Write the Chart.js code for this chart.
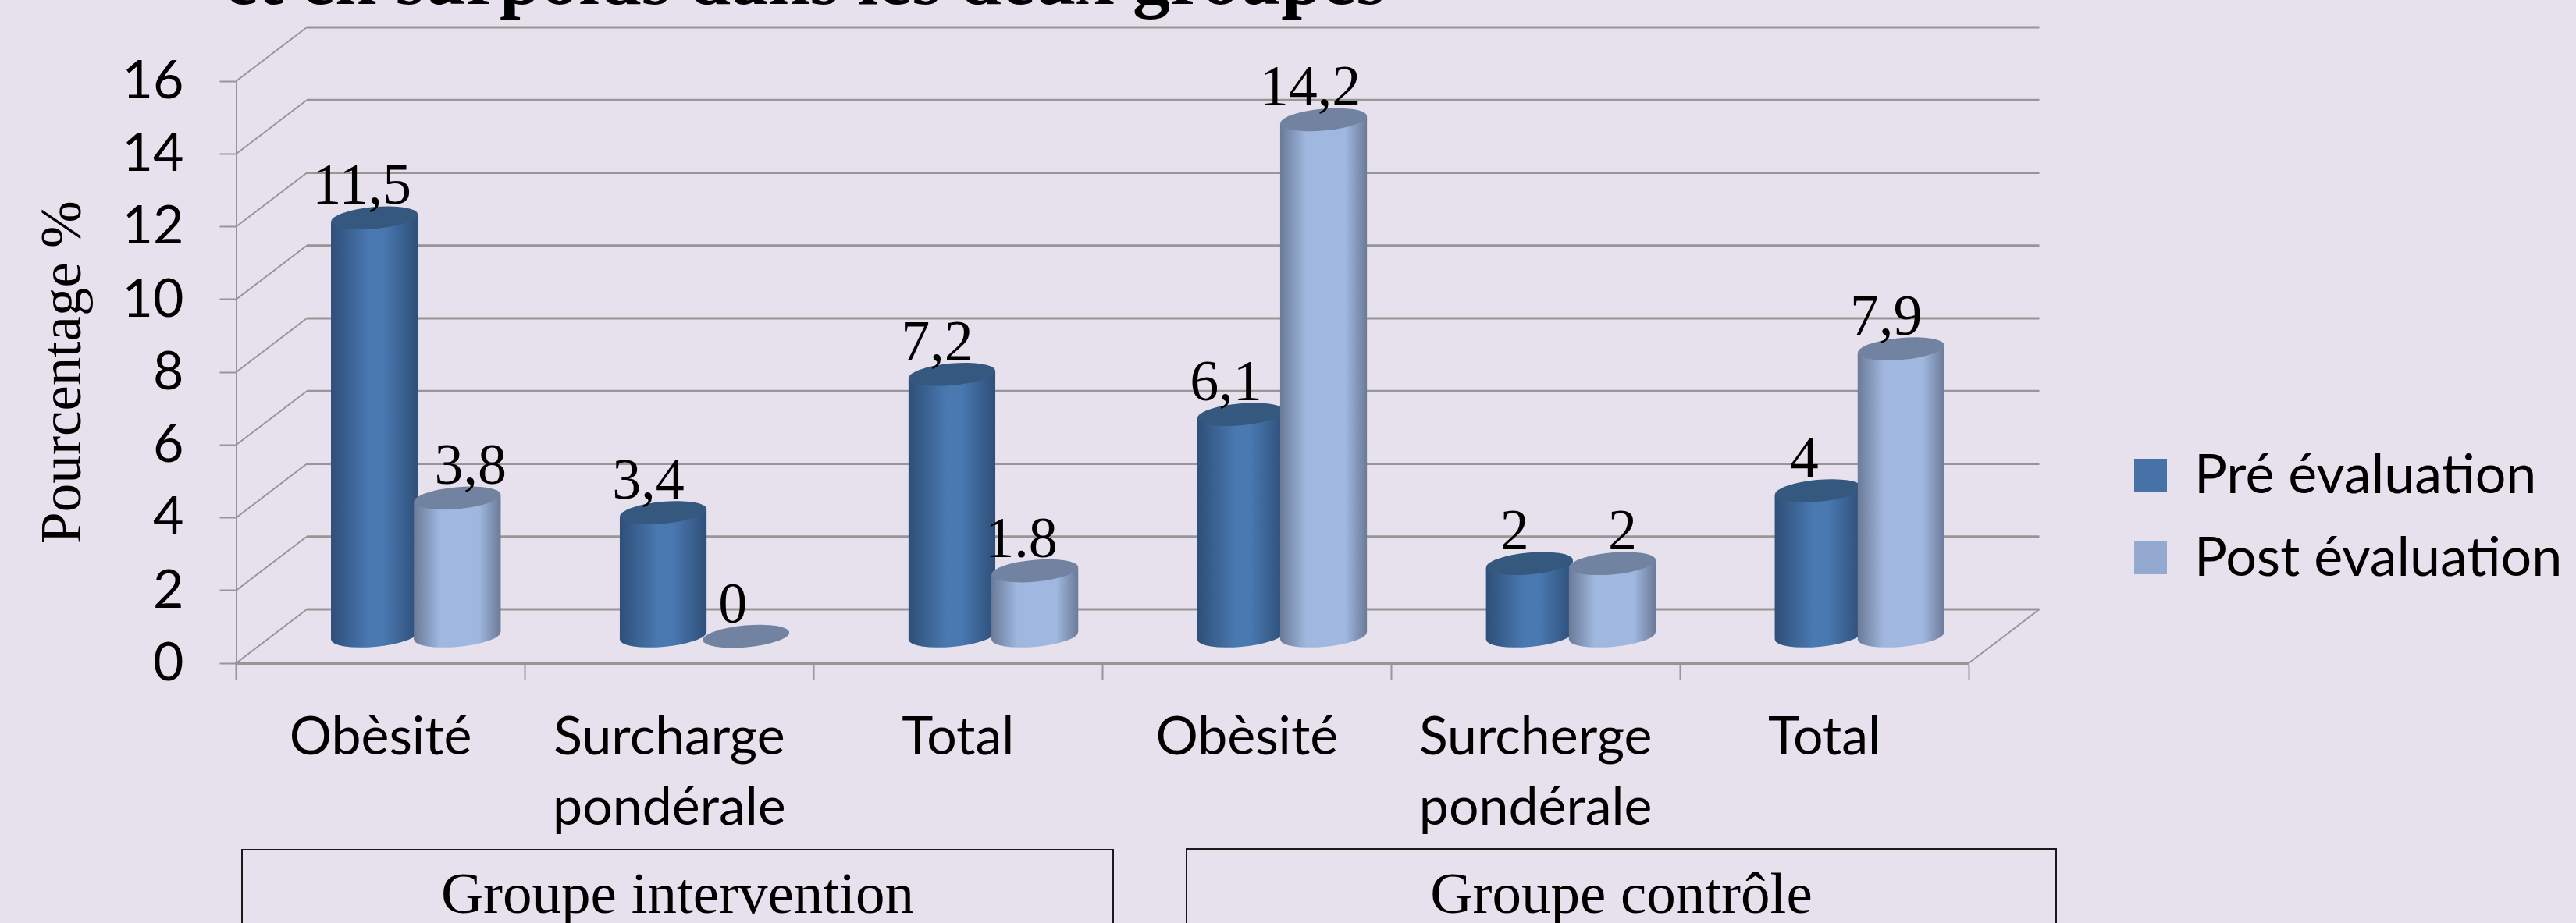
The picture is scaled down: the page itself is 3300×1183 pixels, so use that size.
<!DOCTYPE html>
<html>
<head>
<meta charset="utf-8">
<title>Pourcentage</title>
<script src="https://cdn.jsdelivr.net/npm/chart.js@4"></script>
<style>
html, body { margin: 0; padding: 0; background: #e6e1ec; overflow: hidden; }
canvas { display: block; }
</style>
</head>
<body>
<canvas id="myChart" width="3300" height="1183"></canvas>
<script>
'use strict';

var categories = ['Obèsité', ['Surcharge', 'pondérale'], 'Total', 'Obèsité', ['Surcherge', 'pondérale'], 'Total'];
var preValues = [11.5, 3.4, 7.2, 6.1, 2, 4];
var postValues = [3.8, 0, 1.8, 14.2, 2, 7.9];
var preLabels = ['11,5', '3,4', '7,2', '6,1', '2', '4'];
var postLabels = ['3,8', '0', '1.8', '14,2', '2', '7,9'];
var groupNames = ['Groupe intervention', 'Groupe contrôle'];
var chartTitle = 'et en surpoids dans les deux groupes';
var yTitle = 'Pourcentage %';

var SANS = 'Lato';
var SERIF = '"Liberation Serif"';
var GRID = '#969696';
var DEPTH_X = 90.5;
var DEPTH_Y = 69;
var TILT = -0.09;
var CAP_RY = 14;

var PRE_STYLE = { edge: '#2e4f78', mid: '#4a79b2', cap: '#35587f', solid: '#4672a8', from: 0.45, to: 0.6 };
var POST_STYLE = { edge: '#6b7a98', mid: '#a0b7df', cap: '#7283a2', solid: '#94a9d0', from: 0.3, to: 0.75 };

function cylinderFill(style) {
	return function (ctx) {
		var bar = ctx.element;
		if (!bar || bar.x === undefined || !bar.width) return style.solid;
		var left = bar.x - bar.width / 2;
		var g = ctx.chart.ctx.createLinearGradient(left, 0, left + bar.width, 0);
		g.addColorStop(0, style.edge);
		g.addColorStop(style.from, style.mid);
		g.addColorStop(style.to, style.mid);
		g.addColorStop(1, style.edge);
		return g;
	};
}

function addBarOutline(ctx, bar) {
	var half = bar.width / 2;
	var rise = half * Math.sin(-TILT);
	ctx.moveTo(bar.x - half, bar.y + rise);
	ctx.lineTo(bar.x + half, bar.y - rise);
	ctx.lineTo(bar.x + half, bar.base - rise);
	ctx.lineTo(bar.x - half, bar.base + rise);
	ctx.closePath();
}

// grid box of the 3D plot: back wall lines, side wall and floor
var wallPlugin = {
	id: 'wall',
	beforeDatasetsDraw: function (chart) {
		var ctx = chart.ctx;
		var area = chart.chartArea;
		var yScale = chart.scales.y;
		ctx.save();
		ctx.strokeStyle = GRID;
		yScale.ticks.forEach(function (tick, i) {
			var y = yScale.getPixelForTick(i);
			ctx.lineWidth = 2;
			ctx.beginPath();
			ctx.moveTo(area.left, y);
			ctx.lineTo(area.left + DEPTH_X, y - DEPTH_Y);
			ctx.stroke();
			ctx.lineWidth = 3;
			ctx.beginPath();
			ctx.moveTo(area.left + DEPTH_X, y - DEPTH_Y);
			ctx.lineTo(area.right + DEPTH_X, y - DEPTH_Y);
			ctx.stroke();
		});
		ctx.lineWidth = 2;
		ctx.beginPath();
		ctx.moveTo(area.right, area.bottom);
		ctx.lineTo(area.right + DEPTH_X, area.bottom - DEPTH_Y);
		ctx.stroke();
		ctx.restore();
	}
};

// bars stand in the middle of the depth, with round caps.
// the post series has to end up over the pre series, so they get painted here in order
var cylinderPlugin = {
	id: 'cylinder',
	beforeDatasetDraw: function (chart, args) {
		var ctx = chart.ctx;
		ctx.save();
		ctx.translate(DEPTH_X / 2, -DEPTH_Y / 2);
		ctx.beginPath();
		args.meta.data.forEach(function (bar) {
			addBarOutline(ctx, bar);
		});
		ctx.clip();
	},
	afterDatasetDraw: function (chart) {
		chart.ctx.restore();
	},
	afterDatasetsDraw: function (chart) {
		var ctx = chart.ctx;
		ctx.save();
		ctx.translate(DEPTH_X / 2, -DEPTH_Y / 2);
		chart.data.datasets.forEach(function (ds, d) {
			chart.getDatasetMeta(d).data.forEach(function (bar) {
				var half = bar.width / 2;
				if (bar.base - bar.y > 1) {
					ctx.fillStyle = bar.options.backgroundColor;
					ctx.beginPath();
					addBarOutline(ctx, bar);
					ctx.fill();
					ctx.beginPath();
					ctx.ellipse(bar.x, bar.base, half, CAP_RY, TILT, 0, Math.PI * 2);
					ctx.fill();
				}
				ctx.fillStyle = ds.cylinder.cap;
				ctx.beginPath();
				ctx.ellipse(bar.x, bar.y, half, CAP_RY, TILT, 0, Math.PI * 2);
				ctx.fill();
			});
		});
		ctx.restore();
	}
};

// value labels, group boxes and the cut title
var textPlugin = {
	id: 'texts',
	beforeDraw: function (chart) {
		var legend = chart.legend;
		legend.left = 2698;
		legend.right = 3300;
		legend.top = 538;
		legend.bottom = 805;
	},
	afterDraw: function (chart) {
		var ctx = chart.ctx;
		ctx.save();
		ctx.fillStyle = '#000';
		ctx.textAlign = 'center';
		ctx.textBaseline = 'alphabetic';

		ctx.font = '74px ' + SERIF;
		chart.data.datasets.forEach(function (ds, d) {
			chart.getDatasetMeta(d).data.forEach(function (bar, i) {
				ctx.fillText(ds.valueLabels[i], bar.x + DEPTH_X / 2 + ds.labelShift[i], bar.y - DEPTH_Y / 2 - 18);
			});
		});

		ctx.font = '75px ' + SERIF;
		ctx.strokeStyle = '#1a1a1a';
		ctx.lineWidth = 2;
		ctx.strokeRect(310, 1089, 1116, 200);
		ctx.strokeRect(1520, 1088, 1114, 200);
		ctx.fillText(groupNames[0], 868, 1170);
		ctx.fillText(groupNames[1], 2077, 1170);

		ctx.font = 'bold 96px ' + SERIF;
		ctx.textAlign = 'left';
		ctx.fillText(chartTitle, 288, 5);
		ctx.restore();
	}
};

var chart = new Chart(document.getElementById('myChart').getContext('2d'), {
	type: 'bar',
	data: {
		labels: categories,
		datasets: [{
			label: 'Pré évaluation',
			data: preValues,
			valueLabels: preLabels,
			labelShift: [-16, -19, -19, -19, -19, -18],
			cylinder: PRE_STYLE,
			backgroundColor: cylinderFill(PRE_STYLE),
			clip: false
		}, {
			label: 'Post évaluation',
			data: postValues,
			valueLabels: postLabels,
			labelShift: [17, -17, -17, -17, 13, -19],
			cylinder: POST_STYLE,
			backgroundColor: cylinderFill(POST_STYLE),
			clip: false
		}]
	},
	options: {
		responsive: false,
		animation: false,
		categoryPercentage: 0.574,
		barPercentage: 1.047,
		layout: { padding: { top: 104, right: 778, left: 0, bottom: 0 } },
		plugins: {
			title: { display: false },
			tooltip: { enabled: false },
			legend: {
				position: 'chartArea',
				align: 'start',
				labels: {
					boxWidth: 42,
					boxHeight: 42,
					padding: 36,
					color: '#000',
					font: { family: SANS, size: 70 },
					generateLabels: function (chart) {
						var items = Chart.defaults.plugins.legend.labels.generateLabels(chart);
						items.forEach(function (item) {
							item.fillStyle = chart.data.datasets[item.datasetIndex].cylinder.solid;
							item.lineWidth = 0;
						});
						return items;
					}
				}
			}
		},
		scales: {
			x: {
				afterFit: function (scale) { scale.height = 333; },
				border: { color: GRID, width: 3 },
				grid: { drawOnChartArea: false, drawTicks: true, tickLength: 22, tickWidth: 2, color: GRID },
				ticks: {
					color: '#000',
					maxRotation: 0,
					autoSkip: false,
					padding: 28,
					font: { family: SANS, size: 68, lineHeight: 1.32 }
				}
			},
			y: {
				min: 0,
				max: 16,
				afterFit: function (scale) { scale.width = 302.5; },
				border: { color: GRID, width: 2 },
				grid: { drawOnChartArea: false, drawTicks: true, tickLength: 21, tickWidth: 2, color: GRID },
				ticks: {
					stepSize: 2,
					color: '#000',
					padding: 46,
					font: { family: SANS, size: 68 }
				},
				title: {
					display: true,
					text: yTitle,
					color: '#000',
					padding: { top: 40, bottom: 0 },
					font: { family: SERIF, size: 73, weight: 'normal' }
				}
			}
		}
	},
	plugins: [wallPlugin, cylinderPlugin, textPlugin]
});
// second pass: the bars now have a position, so the gradients can be built
chart.update();
</script>
</body>
</html>
